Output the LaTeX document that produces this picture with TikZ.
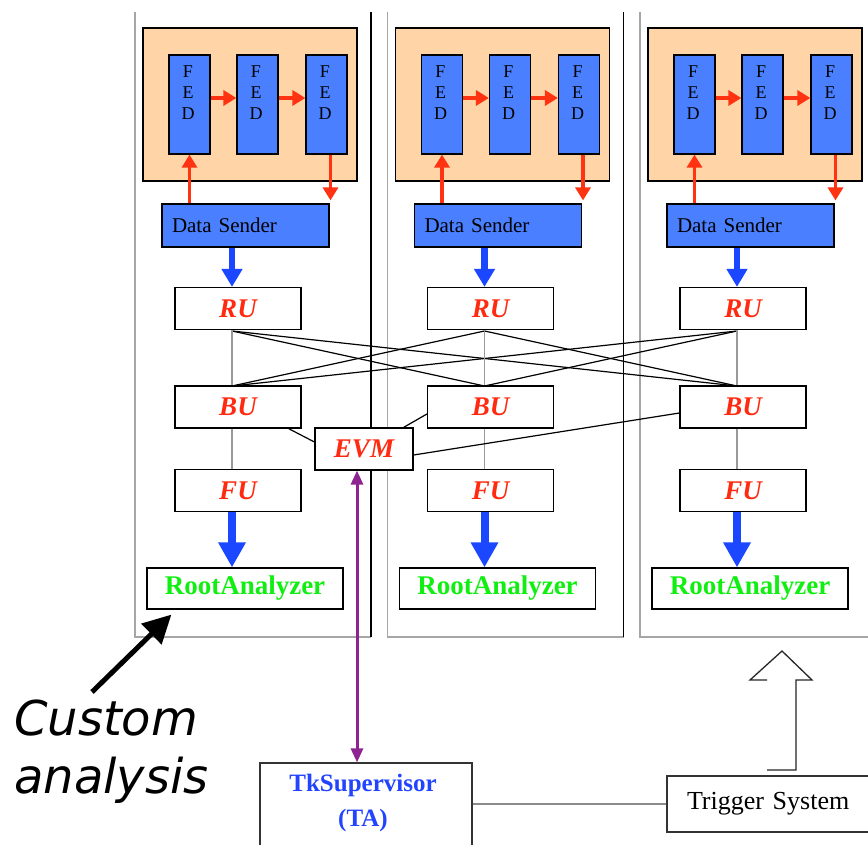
\documentclass[tikz,border=0pt]{standalone}
\usepackage{fontspec}
\setmainfont{Liberation Serif}
\newfontfamily\dejavu{DejaVu Sans}
\usetikzlibrary{arrows.meta}
\definecolor{peach}{HTML}{FFD4A6}
\definecolor{fedblue}{HTML}{4A80FF}
\definecolor{redarr}{HTML}{FF3311}
\definecolor{bluearr}{HTML}{1A47FF}
\definecolor{grn}{HTML}{11EE11}
\definecolor{tkblue}{HTML}{2244FF}
\definecolor{purp}{HTML}{8E2490}
\definecolor{unitred}{HTML}{FF2A10}
\begin{document}
\begin{tikzpicture}[x=1pt,y=-1pt,
  panelL/.style={draw=gray!70, line width=1.5pt},
  panelR/.style={draw=black, line width=1.8pt},
  orangebox/.style={draw=black, line width=1.2pt, fill=peach, minimum width=214pt, minimum height=153pt, inner sep=0pt},
  fedbox/.style={draw=black, line width=1.2pt, fill=fedblue, minimum width=41pt, minimum height=99pt, inner sep=0pt},
  fedtext/.style={font=\fontsize{18}{21}\selectfont, align=center, inner sep=0pt},
  dsbox/.style={draw=black, line width=1.2pt, fill=fedblue, minimum width=167pt, minimum height=43pt, inner sep=0pt, text width=147pt, align=left, font=\fontsize{21}{24}\selectfont},
  unitbox/.style={draw=black, line width=1.2pt, fill=white, minimum width=126pt, minimum height=42pt, inner sep=0pt, text=unitred, font=\fontsize{27}{30}\selectfont\bfseries\itshape},
  rabox/.style={draw=black, line width=1.2pt, fill=white, minimum width=196pt, minimum height=41pt, inner sep=0pt, text=grn, font=\fontsize{27}{30}\selectfont\bfseries},
  redarrow/.style={draw=redarr, line width=3.8pt, -{Triangle[length=13pt,width=15pt]}},
  bluesmall/.style={draw=bluearr, line width=6.5pt, -{Triangle[length=18pt,width=20pt]}},
  bluebig/.style={draw=bluearr, line width=8pt, -{Triangle[length=25pt,width=26pt]}},
  grayline/.style={draw=gray!80, line width=1.1pt},
  crossline/.style={draw=black, line width=1.2pt},
  evmline/.style={draw=black, line width=1.2pt},
  purparrow/.style={draw=purp, line width=3pt, {Triangle[length=14pt,width=12pt]}-{Triangle[length=14pt,width=12pt]}},
  plainbox/.style={draw=black!80, line width=1.2pt, fill=white, inner sep=0pt},
  customtext/.style={font=\dejavu\itshape\fontsize{48}{58}\selectfont, inner sep=0pt, anchor=base west}
]
\useasboundingbox (0,0) rectangle (868,845);
\fill[white] (0,0) rectangle (868,845);

% panels
\foreach \i in {0,1,2}{
  \pgfmathsetmacro\o{\i*252.5}
  \draw[panelL] ({135+\o},12) -- ({135+\o},637) -- ({371+\o},637);
  \draw[panelR] ({371+\o},12) -- ({371+\o},637);
}

% per-column blocks
\foreach \i in {0,1,2}{
  \pgfmathsetmacro\o{\i*252.5}
  \node[orangebox] (or\i) at ({250+\o},104.5) {};
  \node[fedbox] (fa\i) at ({189.5+\o},104.5) {};
  \node[fedbox] (fb\i) at ({257.5+\o},104.5) {};
  \node[fedbox] (fc\i) at ({326.5+\o},104.5) {};
  \node[fedtext] (ta\i) at ({188+\o},93) {F\\E\\D};
  \node[fedtext] (tb\i) at ({256+\o},93) {F\\E\\D};
  \node[fedtext] (tc\i) at ({325+\o},93) {F\\E\\D};
  \draw[redarrow] ([yshift=6.5pt]fa\i.east) -- ([yshift=6.5pt]fb\i.west);
  \draw[redarrow] ([yshift=6.5pt]fb\i.east) -- ([yshift=6.5pt]fc\i.west);
  \node[dsbox] (ds\i) at ({245.5+\o},225.5) {Data Sender};
  \draw[redarrow] (fa\i.south |- ds\i.north) -- (fa\i.south);
  \draw[redarrow] ([xshift=4pt]fc\i.south) -- ([xshift=4pt,yshift=3pt]fc\i.south |- ds\i.north);
  \coordinate (rb\i) at ({232+\o},331);
  \coordinate (bt\i) at ({232+\o},386);
}

% crossing RU-BU links
\draw[crossline] (rb0) -- (bt1);
\draw[crossline] (rb0) -- (bt2);
\draw[crossline] (rb1) -- (bt0);
\draw[crossline] (rb1) -- (bt2);
\draw[crossline] (rb2) -- (bt0);
\draw[crossline] (rb2) -- (bt1);

\foreach \i in {0,1,2}{
  \pgfmathsetmacro\o{\i*252.5}
  \node[unitbox] (ru\i) at ({238+\o},308.5) {RU};
  \node[unitbox] (bu\i) at ({238+\o},407) {BU};
  \node[unitbox] (fu\i) at ({238+\o},490.5) {FU};
  \node[rabox] (ra\i) at ({245+\o},588.5) {RootAnalyzer};
  \draw[bluesmall] ([xshift=-6pt]ru\i.north |- ds\i.south) -- ([xshift=-6pt]ru\i.north);
  \draw[grayline] ([xshift=-6pt]ru\i.south) -- ([xshift=-6pt]bu\i.north);
  \draw[grayline] ([xshift=-6pt]bu\i.south) -- ([xshift=-6pt]fu\i.north);
  \draw[bluebig] ([xshift=-6pt]fu\i.south) -- ([xshift=-6pt]fu\i.south |- ra\i.north);
}

% EVM
\node[unitbox, minimum width=98pt] (evm) at (364,449) {EVM};
\draw[evmline] ([xshift=-13pt]bu0.south east) -- ([yshift=7pt]evm.west);
\draw[evmline] ([xshift=-10pt]evm.north east) -- ([yshift=-7pt]bu1.west);
\draw[evmline] ([yshift=-6pt]evm.east) -- ([yshift=-6pt]bu2.west);

% supervisor and trigger
\node[plainbox, minimum width=212pt, minimum height=86pt] (tk) at (366,806) {};
\node[inner sep=0pt, text=tkblue, font=\fontsize{25}{35}\selectfont\bfseries, align=center] (tktext) at (363,803) {TkSupervisor\\(TA)};
\node[plainbox, minimum width=233pt, minimum height=56pt, text width=193pt, align=left, font=\fontsize{26}{30}\selectfont] (trig) at (783.5,804) {Trigger System};
\draw[grayline, draw=gray!90] (tk.east |- trig.west) -- (trig.west);
\draw[purparrow] ([xshift=-7pt]evm.south) -- ([xshift=-7pt]evm.south |- tk.north);

% hollow trigger arrow
\draw[black!85, line width=1.3pt] (767,770) -- (796,770) -- (796,680) -- (812,680) -- (782,651) -- (750,680) -- (767,680);

% custom analysis
\node[customtext] (cust) at (14,735) {Custom};
\node[customtext] (anal) at (14,793) {analysis};
\coordinate (castart) at (92,692);
\draw[black, line width=5pt, -{Triangle[length=28pt,width=28pt]}] (castart) -- ([xshift=25pt,yshift=-5pt]ra0.south west);
\end{tikzpicture}
\end{document}
